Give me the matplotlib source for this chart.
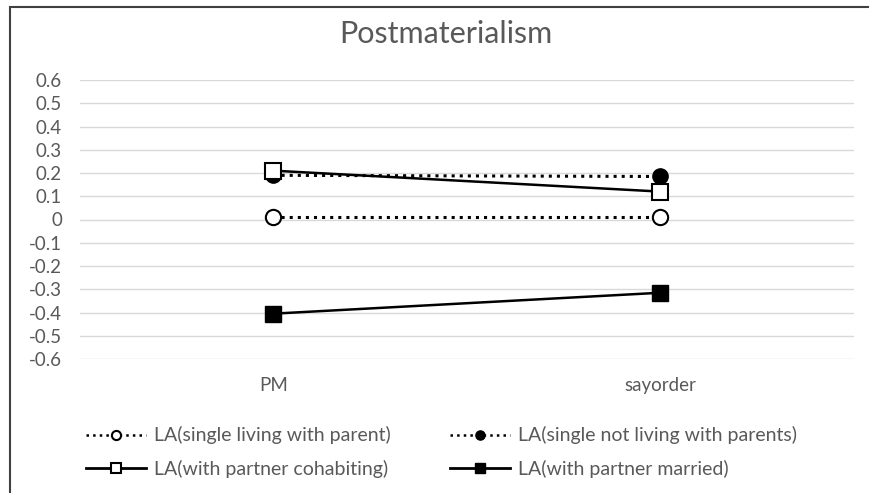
import matplotlib.pyplot as plt
from matplotlib.patches import Rectangle

plt.rcParams['font.family'] = ['Lato', 'DejaVu Sans']

categories = ['PM', 'sayorder']
single_parent = [0.01, 0.01]
single_alone = [0.19, 0.185]
cohabiting = [0.21, 0.12]
married = [-0.405, -0.315]
yticks = [-0.6, -0.5, -0.4, -0.3, -0.2, -0.1, 0, 0.1, 0.2, 0.3, 0.4, 0.5, 0.6]

fig = plt.figure(figsize=(8.7, 4.93), dpi=100)
ax = fig.add_axes([80 / 870, 1 - 359 / 493, 774 / 870, 279 / 493])

x = range(len(categories))
h1, = ax.plot(x, single_parent, color='black', linestyle=':', lw=2.2,
              marker='o', markersize=11, markerfacecolor='white', markeredgewidth=1.5,
              label='LA(single living with parent)')
h2, = ax.plot(x, single_alone, color='black', linestyle=':', lw=2.2,
              marker='o', markersize=11, markerfacecolor='black',
              label='LA(single not living with parents)')
h3, = ax.plot(x, cohabiting, color='black', linestyle='-', lw=1.8,
              marker='s', markersize=12, markerfacecolor='white', markeredgewidth=1.5,
              label='LA(with partner cohabiting)')
h4, = ax.plot(x, married, color='black', linestyle='-', lw=1.8,
              marker='s', markersize=12, markerfacecolor='black',
              label='LA(with partner married)')

ax.set_xlim(-0.5, 1.5)
ax.set_ylim(-0.6, 0.6)
ax.set_xticks(list(x))
ax.set_xticklabels(categories)
ax.set_yticks(yticks)
ax.set_yticklabels(['0' if t == 0 else f'{t:.1f}' for t in yticks])
ax.tick_params(length=0, labelsize=13.5, colors='#595959', pad=13)
ax.tick_params(axis='x', pad=13)
for s in ax.spines.values():
    s.set_visible(False)
ax.grid(axis='y', color='#d9d9d9', lw=1)
ax.set_axisbelow(True)

fig.text(0.512, 0.932, 'Postmaterialism', ha='center', va='center',
         fontsize=22, color='#595959')

# two single-column legends so each column starts where the reference has it
leg_kw = dict(loc='center left', frameon=False, fontsize=14, labelcolor='#595959',
              handlelength=3.1, handletextpad=0.4, labelspacing=0.78,
              markerscale=0.6, borderpad=0, borderaxespad=0)
leg1 = fig.legend([h1, h3], [h1.get_label(), h3.get_label()],
                  bbox_to_anchor=(86 / 870, 1 - 452 / 493), **leg_kw)
leg2 = fig.legend([h2, h4], [h2.get_label(), h4.get_label()],
                  bbox_to_anchor=(450 / 870, 1 - 452 / 493), **leg_kw)
for leg in (leg1, leg2):
    for ln in leg.get_lines():
        ln.set_linewidth(1.8 if ln.get_linestyle() == ':' else 2)

fig.patches.append(Rectangle((10 / 870, -0.1), 1.2, 1 - 7 / 493 + 0.1,
                             transform=fig.transFigure, fill=False,
                             edgecolor='#404040', lw=1.5))

fig.savefig('out.png', dpi=100)
